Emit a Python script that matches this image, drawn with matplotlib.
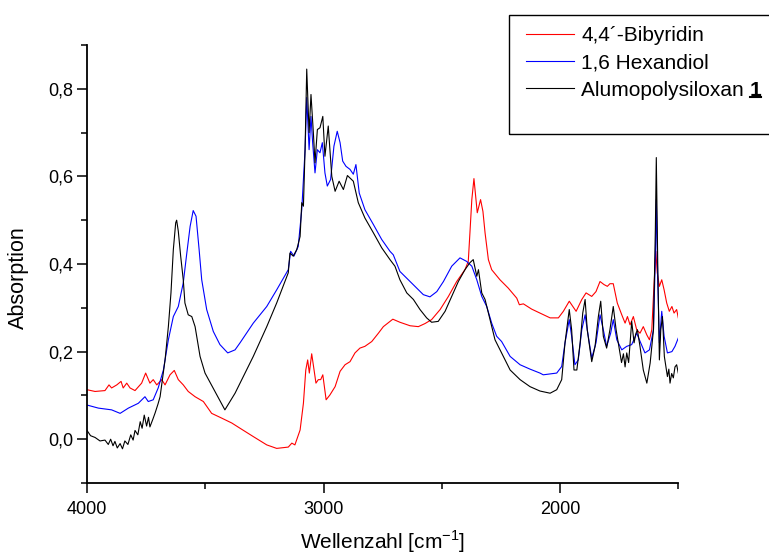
import matplotlib
matplotlib.use("Agg")
import matplotlib.pyplot as plt
from matplotlib.ticker import MultipleLocator, FuncFormatter
from matplotlib.patches import Rectangle
from matplotlib.lines import Line2D

plt.rcParams["font.family"] = ["Liberation Sans", "DejaVu Sans"]

# 4,4'-Bipyridin (rot)
wn_bipy = [4000, 3966, 3924, 3907, 3896, 3874, 3856, 3847, 3832, 3818, 3797, 3769,
           3752, 3734, 3720, 3705, 3684, 3670, 3649, 3631, 3614, 3593, 3572, 3543,
           3508, 3473, 3430, 3388, 3353, 3297, 3240, 3198, 3149, 3134, 3121, 3099,
           3085, 3075, 3067, 3060, 3050, 3040, 3032, 3022, 3012, 3003, 2989, 2973,
           2951, 2930, 2909, 2888, 2867, 2846, 2825, 2796, 2768, 2747, 2707, 2677,
           2634, 2599, 2571, 2543, 2507, 2472, 2437, 2402, 2388, 2381, 2373, 2364,
           2350, 2336, 2326, 2317, 2303, 2289, 2254, 2219, 2183, 2172, 2155, 2120,
           2085, 2042, 2007, 1986, 1961, 1932, 1908, 1890, 1866, 1848, 1831, 1814,
           1800, 1789, 1775, 1758, 1739, 1725, 1715, 1704, 1690, 1676, 1662, 1648,
           1633, 1622, 1612, 1603, 1595, 1589, 1580, 1570, 1560, 1549, 1538, 1527,
           1518, 1507, 1500]
abs_bipy = [0.113, 0.109, 0.111, 0.124, 0.117, 0.124, 0.132, 0.117, 0.128, 0.117, 0.111, 0.128,
            0.151, 0.128, 0.136, 0.124, 0.136, 0.124, 0.147, 0.157, 0.136, 0.124, 0.109, 0.097,
            0.086, 0.059, 0.048, 0.037, 0.025, 0.006, -0.013, -0.021, -0.018, -0.009, -0.013, 0.021,
            0.082, 0.158, 0.181, 0.151, 0.195, 0.158, 0.128, 0.136, 0.136, 0.147, 0.090, 0.101,
            0.120, 0.155, 0.170, 0.177, 0.197, 0.208, 0.212, 0.223, 0.242, 0.257, 0.274, 0.267,
            0.259, 0.257, 0.264, 0.273, 0.296, 0.326, 0.360, 0.387, 0.406, 0.471, 0.547, 0.595,
            0.517, 0.547, 0.520, 0.471, 0.410, 0.387, 0.364, 0.345, 0.322, 0.307, 0.309, 0.297,
            0.288, 0.277, 0.277, 0.292, 0.315, 0.292, 0.319, 0.334, 0.326, 0.337, 0.360, 0.353,
            0.349, 0.355, 0.355, 0.311, 0.284, 0.265, 0.280, 0.261, 0.280, 0.250, 0.242, 0.257,
            0.238, 0.227, 0.250, 0.349, 0.429, 0.380, 0.349, 0.364, 0.341, 0.311, 0.292, 0.303,
            0.288, 0.296, 0.277]

# 1,6 Hexandiol (blau)
wn_hex = [4000, 3952, 3896, 3860, 3825, 3783, 3755, 3741, 3720, 3699, 3677, 3656,
          3635, 3614, 3593, 3578, 3564, 3551, 3539, 3526, 3515, 3494, 3466, 3438,
          3405, 3374, 3353, 3297, 3240, 3198, 3149, 3139, 3125, 3107, 3092, 3078,
          3071, 3061, 3053, 3046, 3036, 3026, 3015, 3005, 2994, 2984, 2970, 2956,
          2942, 2930, 2919, 2905, 2888, 2874, 2863, 2849, 2825, 2789, 2754, 2719,
          2705, 2677, 2634, 2606, 2578, 2550, 2521, 2493, 2458, 2423, 2395, 2373,
          2352, 2331, 2310, 2289, 2268, 2247, 2211, 2169, 2127, 2085, 2071, 2014,
          1993, 1979, 1961, 1951, 1937, 1923, 1908, 1894, 1885, 1866, 1848, 1831,
          1817, 1803, 1786, 1775, 1760, 1739, 1718, 1697, 1676, 1659, 1641, 1622,
          1605, 1597, 1593, 1587, 1580, 1570, 1560, 1546, 1527, 1514, 1500]
abs_hex = [0.078, 0.071, 0.067, 0.059, 0.071, 0.082, 0.097, 0.086, 0.090, 0.117, 0.158, 0.227,
           0.280, 0.303, 0.357, 0.425, 0.486, 0.522, 0.509, 0.433, 0.364, 0.296, 0.246, 0.216,
           0.197, 0.204, 0.220, 0.265, 0.303, 0.341, 0.387, 0.429, 0.418, 0.440, 0.524, 0.661,
           0.780, 0.661, 0.737, 0.677, 0.608, 0.661, 0.654, 0.677, 0.608, 0.578, 0.593, 0.669,
           0.703, 0.677, 0.635, 0.623, 0.616, 0.605, 0.627, 0.562, 0.524, 0.490, 0.456, 0.429,
           0.421, 0.383, 0.360, 0.345, 0.330, 0.325, 0.337, 0.360, 0.395, 0.414, 0.406, 0.395,
           0.364, 0.326, 0.303, 0.265, 0.235, 0.223, 0.189, 0.170, 0.160, 0.151, 0.147, 0.151,
           0.166, 0.220, 0.273, 0.235, 0.170, 0.181, 0.250, 0.284, 0.250, 0.185, 0.220, 0.284,
           0.250, 0.212, 0.242, 0.273, 0.227, 0.204, 0.212, 0.216, 0.242, 0.220, 0.197, 0.204,
           0.250, 0.418, 0.547, 0.364, 0.220, 0.292, 0.235, 0.197, 0.200, 0.212, 0.231]

# Alumopolysiloxan 1 (schwarz)
wn_alu = [4000, 3985, 3966, 3945, 3924, 3910, 3900, 3890, 3882, 3872, 3860, 3850,
          3840, 3827, 3815, 3805, 3797, 3785, 3775, 3767, 3758, 3748, 3740, 3734,
          3722, 3712, 3700, 3691, 3670, 3656, 3645, 3635, 3625, 3621, 3614, 3604,
          3593, 3586, 3572, 3557, 3543, 3522, 3501, 3459, 3417, 3374, 3353, 3297,
          3240, 3198, 3149, 3142, 3128, 3113, 3099, 3092, 3085, 3078, 3071, 3061,
          3053, 3043, 3036, 3026, 3015, 3003, 2994, 2980, 2965, 2951, 2934, 2916,
          2899, 2874, 2853, 2825, 2789, 2754, 2719, 2698, 2677, 2648, 2620, 2592,
          2564, 2543, 2515, 2486, 2458, 2430, 2402, 2381, 2367, 2352, 2345, 2331,
          2317, 2296, 2275, 2247, 2211, 2169, 2127, 2085, 2042, 2014, 1993, 1979,
          1961, 1951, 1941, 1929, 1915, 1904, 1894, 1885, 1866, 1852, 1838, 1828,
          1817, 1803, 1789, 1775, 1763, 1749, 1740, 1732, 1725, 1718, 1710, 1704,
          1697, 1687, 1680, 1673, 1662, 1648, 1633, 1619, 1605, 1597, 1593, 1587,
          1580, 1574, 1567, 1559, 1546, 1540, 1535, 1528, 1521, 1514, 1507, 1500]
abs_alu = [0.020, 0.008, 0.004, -0.004, -0.002, -0.012, 0.000, -0.015, -0.005, -0.020, -0.010, -0.022,
           -0.004, -0.012, 0.010, -0.002, 0.020, 0.010, 0.040, 0.025, 0.055, 0.030, 0.050, 0.028,
           0.045, 0.060, 0.080, 0.097, 0.181, 0.257, 0.334, 0.433, 0.494, 0.500, 0.475, 0.418,
           0.364, 0.311, 0.284, 0.280, 0.257, 0.189, 0.151, 0.109, 0.067, 0.105, 0.128, 0.189,
           0.257, 0.311, 0.380, 0.425, 0.418, 0.433, 0.463, 0.540, 0.532, 0.661, 0.845, 0.700,
           0.787, 0.700, 0.631, 0.707, 0.711, 0.737, 0.646, 0.715, 0.600, 0.566, 0.589, 0.570,
           0.602, 0.589, 0.540, 0.505, 0.471, 0.437, 0.410, 0.395, 0.364, 0.334, 0.319, 0.296,
           0.277, 0.267, 0.269, 0.292, 0.326, 0.360, 0.387, 0.403, 0.410, 0.372, 0.387, 0.334,
           0.319, 0.273, 0.227, 0.197, 0.158, 0.136, 0.120, 0.110, 0.105, 0.113, 0.136, 0.220,
           0.296, 0.250, 0.158, 0.158, 0.220, 0.288, 0.319, 0.250, 0.177, 0.212, 0.280, 0.315,
           0.235, 0.208, 0.250, 0.303, 0.250, 0.204, 0.175, 0.195, 0.165, 0.197, 0.175, 0.220,
           0.269, 0.220, 0.240, 0.250, 0.212, 0.158, 0.128, 0.174, 0.250, 0.479, 0.643, 0.403,
           0.181, 0.250, 0.280, 0.189, 0.143, 0.160, 0.128, 0.150, 0.140, 0.165, 0.170, 0.151]

labels = ["4,4\u00b4-Bibyridin", "1,6 Hexandiol", "Alumopolysiloxan "]
colors = ["#ff0000", "#0000ff", "#000000"]

fig = plt.figure(figsize=(7.69, 5.55), dpi=100)
ax = fig.add_axes([87 / 769, 1 - 483 / 555, 591.3 / 769, 438 / 555])

h1, = ax.plot(wn_bipy, abs_bipy, color=colors[0], lw=0.8)
h2, = ax.plot(wn_hex, abs_hex, color=colors[1], lw=0.8)
h3, = ax.plot(wn_alu, abs_alu, color=colors[2], lw=0.8)

ax.set_xlim(4000, 1500)
ax.set_ylim(-0.1, 0.9)
ax.spines["top"].set_visible(False)
ax.spines["right"].set_visible(False)
for s in ("left", "bottom"):
    ax.spines[s].set_linewidth(1.3)

ax.xaxis.set_major_locator(MultipleLocator(1000))
ax.xaxis.set_minor_locator(MultipleLocator(500))
ax.yaxis.set_major_locator(MultipleLocator(0.2))
ax.yaxis.set_minor_locator(MultipleLocator(0.1))
ax.yaxis.set_major_formatter(FuncFormatter(lambda v, p: f"{v:.1f}".replace(".", ",").replace("-0,0", "0,0")))
ax.xaxis.set_major_formatter(FuncFormatter(lambda v, p: f"{v:.0f}"))
ax.tick_params(which="major", length=7, width=1.1, labelsize=13, direction="out")
ax.tick_params(which="minor", length=4.3, width=1.1, direction="out")
ax.tick_params(axis="x", pad=6)
ax.tick_params(axis="y", pad=3)

ax.set_xlabel("Wellenzahl [cm$^{\\mathregular{-1}}$]", fontsize=15)
ax.set_ylabel("Absorption", fontsize=15.5)
ax.xaxis.set_label_coords(0.5, -0.104)
ax.yaxis.set_label_coords(-0.099, 0.468)

# Legendenrahmen
fig.patches.append(Rectangle((509 / 769, 1 - 134 / 555), 262 / 769, 119 / 555,
                             transform=fig.transFigure, fill=False, ec="black", lw=1.0))
leg = fig.legend([h1, h2, h3], labels, loc="upper left",
                 bbox_to_anchor=(526 / 769, 1 - 26 / 555), frameon=False, fontsize=15,
                 handlelength=2.3, handletextpad=0.35, labelspacing=0.4,
                 borderpad=0, borderaxespad=0)

# fette, unterstrichene "1" hinter dem dritten Eintrag
fig.canvas.draw()
r = fig.canvas.get_renderer()
bb = leg.get_texts()[2].get_window_extent(r)
inv = fig.transFigure.inverted()
x0, y0 = inv.transform((bb.x1, bb.y0))
t1 = fig.text(x0, y0, "1", fontsize=15, fontweight="bold", ha="left", va="bottom")
fig.canvas.draw()
bb1 = t1.get_window_extent(r)
ux0, uy = inv.transform((bb1.x0, bb1.y0 + 3))
ux1, _ = inv.transform((bb1.x1, bb1.y0))
fig.add_artist(Line2D([ux0, ux1], [uy, uy], transform=fig.transFigure, color="black", lw=1.5))

fig.savefig("out.png", dpi=100)
